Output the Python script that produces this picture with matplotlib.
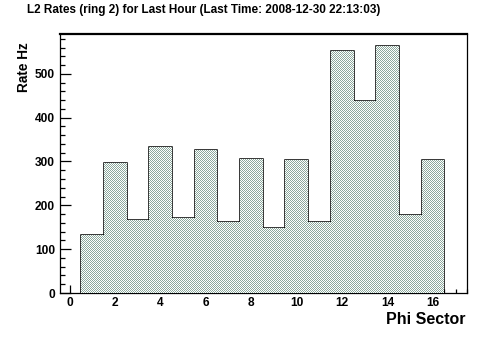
import numpy as np
import matplotlib
matplotlib.use("Agg")
import matplotlib.pyplot as plt
from matplotlib.ticker import MultipleLocator

plt.rcParams['font.family'] = ['Liberation Sans', 'DejaVu Sans']
plt.rcParams['font.weight'] = 'bold'

# L2 rates per phi sector (ring 2)
sector_edges = np.arange(0.5, 17.5, 1.0)
rates = [133, 296, 167, 332, 172, 327, 163, 306, 149, 304, 161, 552, 438, 564, 179, 304]

title = "L2 Rates (ring 2) for Last Hour (Last Time: 2008-12-30 22:13:03)"
xlabel = "Phi Sector"
ylabel = "Rate Hz"

W, H = 492, 344
fig = plt.figure(figsize=(W / 100, H / 100), dpi=100, facecolor='white')
ax = fig.add_axes([60 / W, 1 - 293 / H, 407 / W, 259.5 / H])
ax.patch.set_visible(False)

# histogram outline, also used as clip for the dithered fill
hist = ax.stairs(rates, sector_edges, fill=True, facecolor='none',
                 edgecolor='black', linewidth=1.1, zorder=3)

# checkerboard fill like ROOT's fill style 3001
green = np.array([140, 168, 157, 255]) / 255.0
yy, xx = np.mgrid[0:H, 0:W]
checker = (xx + yy) % 2 == 0
img = np.ones((H, W, 4))
img[checker] = green
fimg = fig.figimage(img, xo=0, yo=0, origin='upper', zorder=0)
fimg.set_clip_path(hist)

ax.set_xlim(-0.43, 17.5)
ax.set_ylim(0, 592)

ax.xaxis.set_major_locator(MultipleLocator(2))
ax.xaxis.set_minor_locator(MultipleLocator(0.5))
ax.yaxis.set_major_locator(MultipleLocator(100))
ax.yaxis.set_minor_locator(MultipleLocator(20))

ax.tick_params(axis='x', which='major', direction='in', length=5.5, width=0.9,
               pad=3, labelsize=8.6)
ax.tick_params(axis='x', which='minor', direction='in', length=3, width=0.9)
ax.tick_params(axis='y', which='major', direction='in', length=8, width=0.9,
               pad=3.5, labelsize=8.6)
ax.tick_params(axis='y', which='minor', direction='in', length=3.6, width=0.9)
for lab in ax.get_xticklabels() + ax.get_yticklabels():
    lab.set_fontweight('bold')

for s in ax.spines.values():
    s.set_linewidth(0.9)
ax.spines['top'].set_linewidth(1.6)

fig.text(27 / W, 1 - 4 / H, title, ha='left', va='top', fontsize=8.5,
         fontweight='bold')
fig.text(23.5 / W, 1 - 42 / H, ylabel, rotation=90, ha='center', va='top',
         fontsize=9.8, fontweight='bold')
fig.text(466 / W, 1 - 320 / H, xlabel, ha='right', va='center',
         fontsize=11.5, fontweight='bold')

fig.savefig("out.png", dpi=100)
